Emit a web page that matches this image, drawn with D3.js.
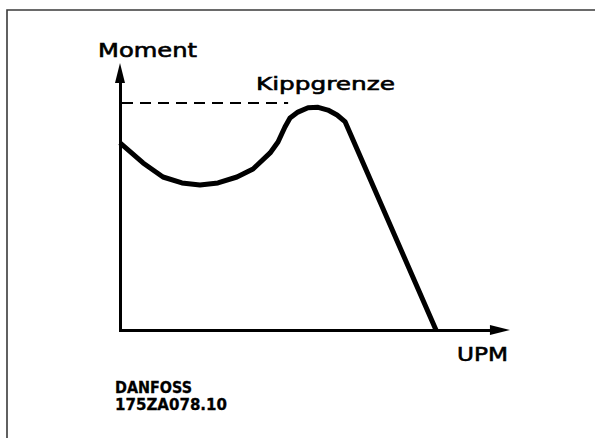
<!DOCTYPE html>
<html>
<head>
<meta charset="utf-8">
<script src="https://cdn.jsdelivr.net/npm/d3@7"></script>
<style>
  html, body { margin: 0; padding: 0; background: #fff; }
  svg { display: block; }
  text { font-family: "DejaVu Sans", sans-serif; fill: #000; }
</style>
</head>
<body>
<div id="chart"></div>
<script>
// Torque / speed curve (percent of synchronous speed, percent of breakdown torque)
const speedPct  = [0, 7.3, 13.6, 19.6, 25.3, 31.0, 37.0, 42.1, 47.5, 50.0, 52.2, 53.8, 56.3, 59.5, 62.7, 65.8, 68.7, 71.2, 100];
const torquePct = [82.4, 73.6, 67.4, 64.8, 63.9, 64.8, 67.4, 70.9, 78.0, 82.8, 89.4, 93.4, 96.0, 97.9, 98.1, 96.9, 94.7, 91.8, 0];

// Kippgrenze (breakdown limit) dashed line
const limitLevel = [100];
const limitSpan  = [0, 53.2];

// axis extents (where the arrow tips sit)
const speedMax  = 123.4;
const torqueMax = 117.6;

const labels = { yTitle: "Moment", xTitle: "UPM", limit: "Kippgrenze", id: ["DANFOSS", "175ZA078.10"] };

const W = 595, H = 438;
const svg = d3.select("#chart").append("svg").attr("width", W).attr("height", H);

// frame (only top and left edges visible)
svg.append("path")
    .attr("d", "M7,438 V10 H595")
    .attr("fill", "none")
    .attr("stroke", "#3a3a3a")
    .attr("stroke-width", 1.6);

const x = d3.scaleLinear().domain([0, 100]).range([120, 436]);
const y = d3.scaleLinear().domain([0, 100]).range([330, 103]);

// axes: domain lines only, no ticks
const arrowLen = 20, arrowHalf = 5;

const xAxisScale = x.copy().domain([0, speedMax]).range([x(0), x(speedMax) - arrowLen]);
const yAxisScale = y.copy().domain([0, torqueMax]).range([y(0), y(torqueMax) + arrowLen]);

svg.append("g")
    .attr("transform", "translate(0," + y(0) + ")")
    .call(d3.axisBottom(xAxisScale).tickValues([]).tickSizeOuter(0))
    .call(g => g.select(".domain").attr("stroke-width", 3).attr("stroke-linecap", "square"));

svg.append("g")
    .attr("transform", "translate(" + x(0) + ",0)")
    .call(d3.axisLeft(yAxisScale).tickValues([]).tickSizeOuter(0))
    .call(g => g.select(".domain").attr("stroke-width", 3).attr("stroke-linecap", "square"));

// arrow heads
const xt = x(speedMax), yt = y(torqueMax);
svg.append("path")
    .attr("d", `M${xt},${y(0)} L${xt - arrowLen},${y(0) - arrowHalf} L${xt - arrowLen},${y(0) + arrowHalf} Z`)
    .attr("fill", "#000");
svg.append("path")
    .attr("d", `M${x(0)},${yt} L${x(0) - arrowHalf},${yt + arrowLen} L${x(0) + arrowHalf},${yt + arrowLen} Z`)
    .attr("fill", "#000");

// breakdown limit
svg.append("line")
    .attr("x1", x(limitSpan[0]) + 2)
    .attr("x2", x(limitSpan[1]))
    .attr("y1", y(limitLevel[0]))
    .attr("y2", y(limitLevel[0]))
    .attr("stroke", "#000")
    .attr("stroke-width", 2)
    .attr("stroke-dasharray", "11 7");

// torque curve
const curve = speedPct.map((s, i) => [s, torquePct[i]]);
const line = d3.line()
    .x(d => x(d[0]))
    .y(d => y(d[1]));

svg.append("path")
    .datum(curve)
    .attr("d", line)
    .attr("fill", "none")
    .attr("stroke", "#000")
    .attr("stroke-width", 5)
    .attr("stroke-linejoin", "round");

// texts (a thin stroke makes the plotter lettering look heavier)
function label(t, x0, yb, size, len, weight, sw) {
    svg.append("text")
        .attr("x", x0)
        .attr("y", yb)
        .attr("font-size", size)
        .attr("font-weight", weight || "normal")
        .attr("stroke", "#000")
        .attr("stroke-width", sw)
        .attr("textLength", len)
        .attr("lengthAdjust", "spacingAndGlyphs")
        .text(t);
}

label(labels.yTitle, 98, 57, 19, 99, "normal", 0.6);
label(labels.limit, 256, 90, 18, 139, "normal", 0.6);
label(labels.xTitle, 457, 361, 19, 51, "normal", 0.6);
label(labels.id[0], 115, 392.5, 15, 77, "bold", 0.3);
label(labels.id[1], 115, 410, 15, 112, "bold", 0.3);
</script>
</body>
</html>
